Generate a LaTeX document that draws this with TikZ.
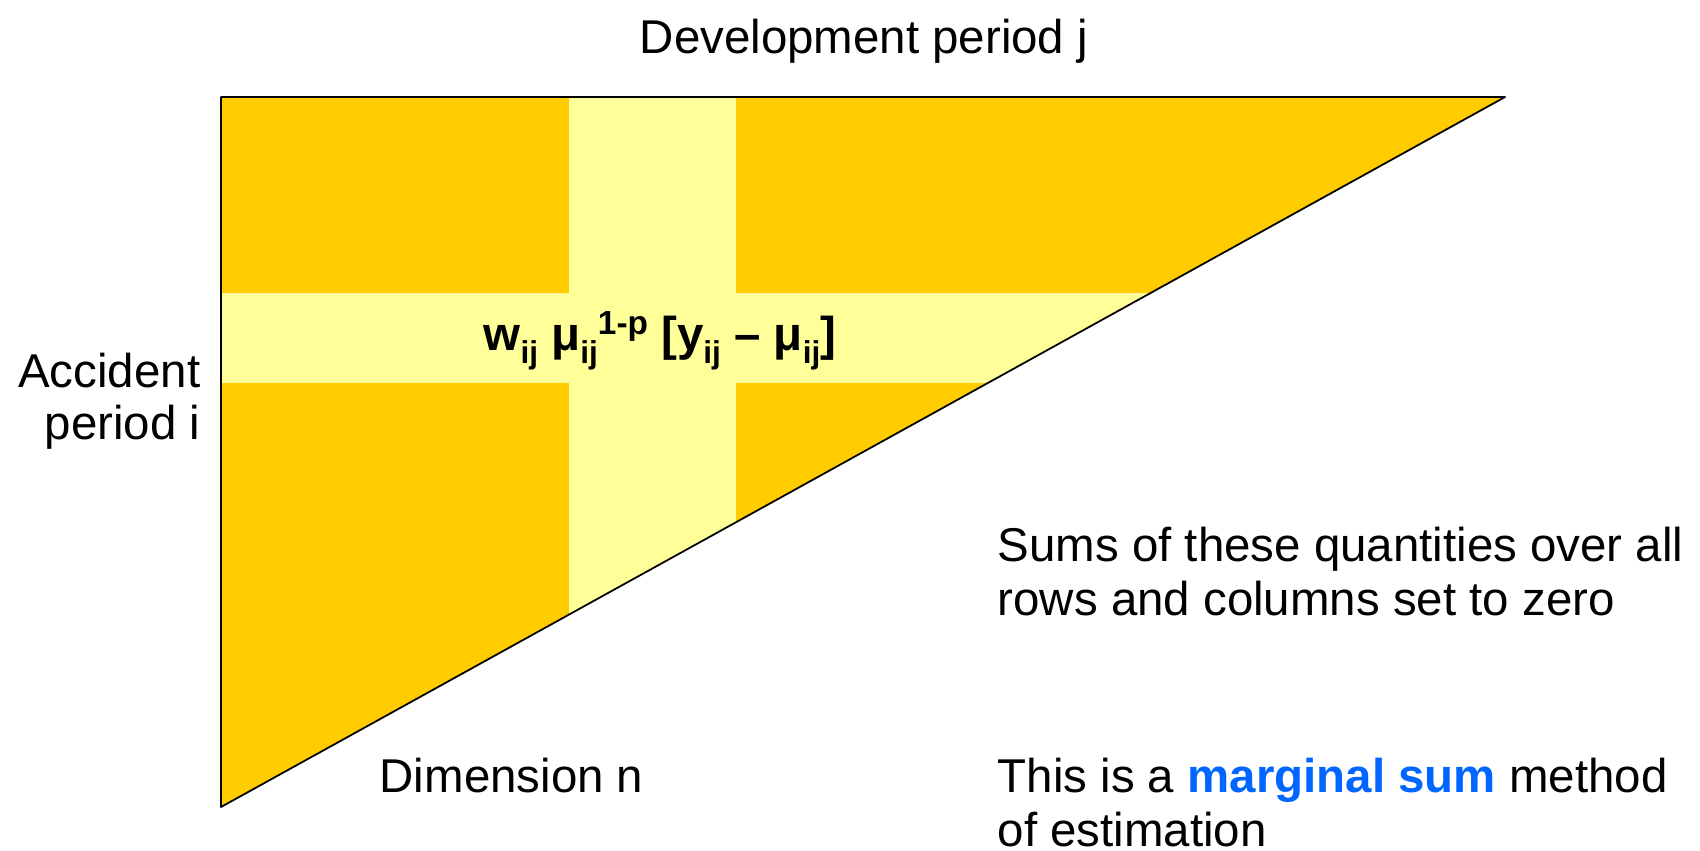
\documentclass[tikz,border=0pt]{standalone}
\usepackage{fontspec}
\setmainfont{Liberation Sans}
\usepackage{xcolor}
\usetikzlibrary{positioning}
\definecolor{gold}{RGB}{255,204,0}
\definecolor{paleyellow}{RGB}{255,255,153}
\definecolor{markblue}{RGB}{0,102,255}
\newcommand{\subij}[1]{\raisebox{-3.7pt}{\fontsize{9}{9}\selectfont #1}}
\newcommand{\supx}[1]{\raisebox{4.3pt}{\fontsize{9.5}{9.5}\selectfont #1}}
\tikzset{
  lbl/.style={font=\fontsize{13.5}{15.6}\selectfont, inner sep=0pt},
  band/.style={fill=paleyellow},
  every picture/.style={line cap=round, line join=round}
}

\begin{document}
\begin{tikzpicture}[x=0.1mm,y=-0.1mm]
  \useasboundingbox (0,0) rectangle (1700,850);
  \coordinate (tl) at (221,97);
  \coordinate (tr) at (1505,97);
  \coordinate (bl) at (221,807);
  \fill[gold] (tl) -- (tr) -- (bl) -- cycle;
  \begin{scope}
    \clip (tl) -- (tr) -- (bl) -- cycle;
    \fill[band] (569,97) rectangle (736,807);
    \fill[band] (221,293) rectangle (1505,383);
  \end{scope}
  \draw[line width=0.5pt] (tl) -- (tr) -- (bl) -- cycle;
  \node[lbl, anchor=north] (dev) at (864,18) {Development period j};
  \node[lbl, anchor=north east, align=right, font=\fontsize{13.5}{14.8}\selectfont] (acc) at (201,352) {Accident\\period i};
  \node[lbl, anchor=base west, font=\bfseries\fontsize{13.5}{15.6}\selectfont] (resid) at (483,350)
    {w\subij{ij} μ\subij{ij}\supx{1-p} [y\subij{ij} – μ\subij{ij}]};
  \node[lbl, anchor=north west, align=left] (sums) at (997,526) {Sums of these quantities over all\\rows and columns set to zero};
  \node[lbl, anchor=north west] (dim) at (379,757) {Dimension n};
  \node[lbl, anchor=north west, align=left] (marg) at (997,757) {This is a \textbf{\color{markblue}marginal sum} method\\of estimation};
\end{tikzpicture}
\end{document}
